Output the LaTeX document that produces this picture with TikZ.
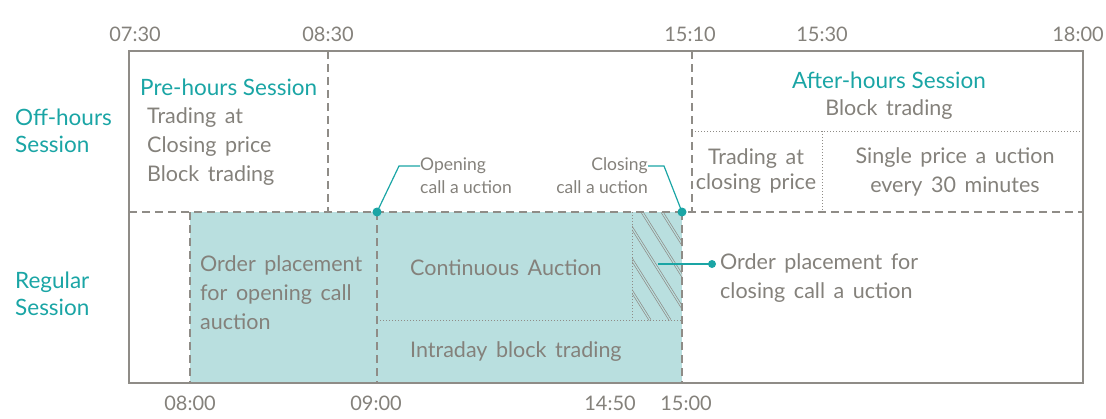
\documentclass[tikz,border=0pt]{standalone}
\usepackage{fontspec}
\setmainfont{Lato}
\usetikzlibrary{positioning}

\definecolor{tealtext}{HTML}{1AA5A5}
\definecolor{tealfill}{HTML}{B9DFDF}
\definecolor{greytext}{HTML}{84817B}
\definecolor{greyline}{HTML}{8F8C87}
\newcommand\widespace{\spaceskip=0.4em plus 0.1em\relax}

\begin{document}
\begin{tikzpicture}[
    x = 1pt, y = -1pt, % one unit = one pixel of the layout
    every node/.style = {inner sep = 0pt, text = greytext},
    frame/.style = {draw = greyline, line width = 1.3pt},
    dashline/.style = {draw = greyline, line width = 1.2pt, dash pattern = on 8pt off 5pt},
    dotline/.style = {draw = greyline, line width = 1pt, dotted}
    ]

    \tikzset{
    head/.style = {text = tealtext, font = \fontsize{22.5}{27}\selectfont},
    body/.style = {font = \fontsize{21.5}{29}\selectfont\widespace},
    small/.style = {font = \fontsize{17.5}{23}\selectfont},
    time/.style = {font = \fontsize{20}{22}\selectfont},
    hatch/.style = {draw = greyline, line width = 0.7pt, double = tealfill, double distance = 1.2pt},
    tdot/.style = {circle, fill = tealtext, minimum size = 9pt},
    leader/.style = {draw = tealtext, line width = 1.2pt}
    }
    \useasboundingbox (0,0) rectangle (1106,418);

    % regular session area
    \fill[tealfill] (190,212) rectangle (682,383);
    \begin{scope}
      \clip (632,212) rectangle (682,320);
      \foreach \o in {-90,-70,...,50}
        \draw[hatch] (632+\o,212) -- ++(68,108);
    \end{scope}

    % grid
    \draw[frame] (129,51) rectangle (1083,383);
    \draw[dashline] (129,212) -- (1083,212);
    \draw[dashline] (328,51) -- (328,212);
    \draw[dashline] (692,51) -- (692,212);
    \draw[dotline] (692,131) -- (1083,131);
    \draw[dotline] (822,131) -- (822,212);
    \draw[dashline] (190,212) -- (190,383);
    \draw[dashline] (377,212) -- (377,383);
    \draw[dashline] (682,212) -- (682,383);
    \draw[dotline] (377,320) -- (682,320);
    \draw[dotline] (632,212) -- (632,320);

    % times
    \node[time] (t0730) at (135,34) {07:30};
    \node[time] (t0830) at (328,34) {08:30};
    \node[time] (t1510) at (690,34) {15:10};
    \node[time] (t1530) at (822,34) {15:30};
    \node[time] (t1800) at (1078,34) {18:00};
    \node[time] (t0800) at (190,403) {08:00};
    \node[time] (t0900) at (376,403) {09:00};
    \node[time] (t1450) at (610,403) {14:50};
    \node[time] (t1500) at (686,403) {15:00};

    % row titles
    \node[head, align = left, anchor = west] (offh) at (15,131) {Off-hours\\Session};
    \node[head, align = left, anchor = west] (regs) at (15,294) {Regular\\Session};

    % off-hours row
    \node[head, anchor = west] (pre) at (140,87) {Pre-hours Session};
    \node[body, align = left, anchor = west] (pretxt) at (147,147) {Trading at\\Closing price\\Block trading};
    \node[head] (after) at (889,80) {After-hours Session};
    \node[body] (aftblk) at (889,110) {Block trading};
    \node[body, align = center, font = \fontsize{21.5}{25}\selectfont\widespace] (aftcls) at (756,171) {Trading at\\closing price};
    \node[body, align = center] (aftsgl) at (955,172) {Single price a uction\\every 30 minutes};

    % regular row
    \node[body, align = left, anchor = west] (ordopen) at (200,293) {Order placement\\for opening call\\auction};
    \node[body, anchor = west] (cont) at (410,268) {Continuous Auction};
    \node[body, anchor = west] (intra) at (410,352) {Intraday block trading};
    \node[body, align = left, anchor = west] (ordcls) at (720,278) {Order placement for\\closing call a uction};

    % call auctions
    \node[small, align = left, anchor = west] (open) at (420,176) {Opening\\call a uction};
    \node[small, align = right, anchor = east] (close) at (648,176) {Closing\\call a uction};

    \node[tdot] (odot) at (377,212) {};
    \node[tdot] (cdot) at (682,212) {};
    \node[tdot, minimum size = 8pt] (pdot) at (712,264) {};
    \coordinate (oknee) at (399,166);
    \coordinate (cknee) at (664,166);
    \coordinate (pend) at (658,264);

    \draw[leader] (odot.center) -- (oknee) -- (open.west |- oknee);
    \draw[leader] (cdot.center) -- (cknee) -- (close.east |- cknee);
    \draw[leader] (pdot.center) -- (pend);
\end{tikzpicture}
\end{document}
